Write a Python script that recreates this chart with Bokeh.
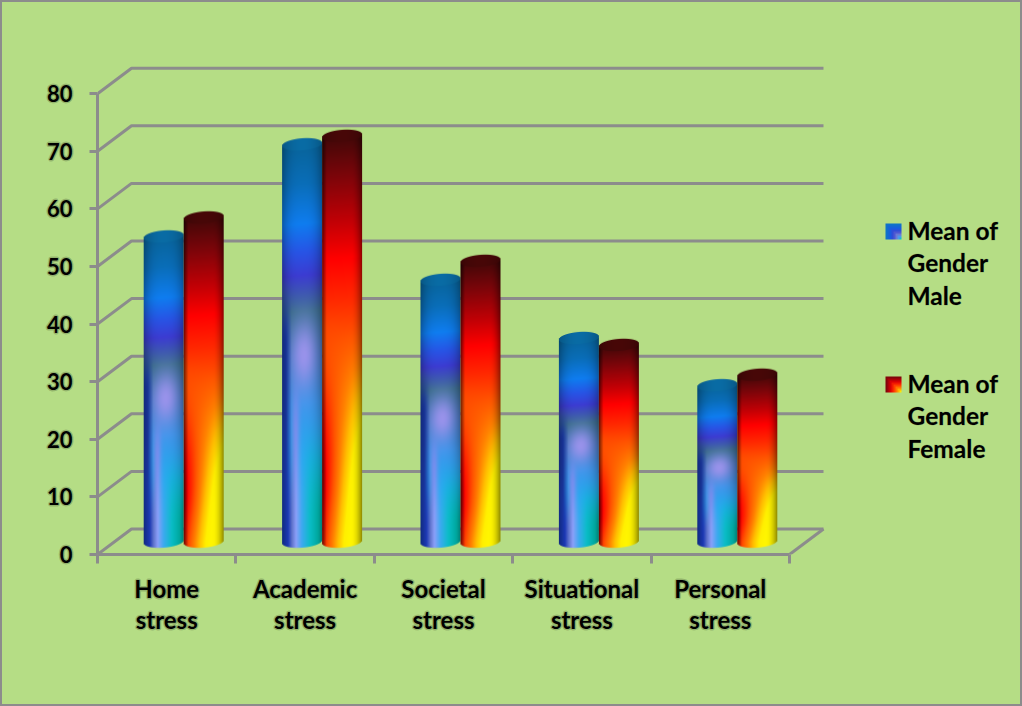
import numpy as np
from bokeh.embed import file_html
from bokeh.models import FixedTicker, InlineStyleSheet, LinearAxis, Range1d
from bokeh.plotting import figure
from bokeh.resources import INLINE
from bokeh.core.properties import value

categories = ["Home\nstress", "Academic\nstress", "Societal\nstress", "Situational\nstress", "Personal\nstress"]
male_values = [53, 69, 45.3, 35.2, 27]
female_values = [56.3, 70.3, 48.6, 34, 29]
y_ticks = [0, 10, 20, 30, 40, 50, 60, 70, 80]
legend_male = ["Mean of", "Gender", "Male"]
legend_female = ["Mean of", "Gender", "Female"]

WIDTH, HEIGHT = 1022, 706
LEFT, BASE = 97, 554
PX_PER_GROUP = 138.4
PX_PER_UNIT = 5.76
BAR_W, CAP, PAD, TILT = 40, 6, 2, 3.0
DEPTH_X = 34 / PX_PER_GROUP
DEPTH_Y = 25.5 / PX_PER_UNIT
BG = "#b5dd85"
GREY = "#8c8c8c"
FONT = "Lato"
STROKE = "#00000030"

MALE_STOPS = [(0, 8, 100, 155), (.1, 10, 110, 185), (.2, 15, 125, 240), (.27, 40, 85, 230), (.33, 60, 60, 210),
              (.42, 60, 112, 145), (.53, 65, 125, 200), (.65, 60, 150, 235), (.8, 35, 170, 240), (1, 35, 175, 240)]
MALE_FOOT = [(0, 20, 50, 150), (.15, 30, 60, 190), (.25, 100, 120, 210), (.35, 140, 160, 250), (.5, 60, 170, 240),
             (.7, 10, 190, 200), (.9, 0, 180, 170), (1, 0, 150, 140)]
FEMALE_STOPS = [(0, 65, 8, 8), (.1, 125, 5, 10), (.22, 200, 0, 5), (.3, 255, 0, 0), (.4, 255, 40, 0), (.5, 255, 85, 0),
                (.62, 255, 130, 0), (.75, 255, 190, 0), (.9, 255, 240, 0), (1, 255, 245, 0)]
MALE_KEY = [(0, 15, 115, 200), (.3, 25, 90, 225), (.5, 60, 70, 210), (.7, 110, 120, 210), (.85, 80, 150, 240),
            (1, 20, 190, 210)]
FEMALE_KEY = [(0, 130, 5, 10), (.3, 220, 0, 5), (.5, 255, 40, 0), (.75, 255, 130, 0), (1, 255, 230, 0)]


def ramp(stops, t):
    s = np.array(stops, dtype=float)
    return np.stack([np.interp(t, s[:, 0], s[:, c]) for c in (1, 2, 3)], axis=-1)


def step(a, b, x):
    w = np.clip((x - a) / (b - a), 0, 1)
    return w * w * (3 - 2 * w)


def blend(rgb, colour, w):
    return rgb * (1 - w[..., None]) + np.array(colour, dtype=float) * w[..., None]


def male_surface(u, v):
    rgb = ramp(MALE_STOPS, v)
    blob = np.exp(-((u - .55) / .34) ** 2 - ((v - .53) / .085) ** 2)
    rgb = blend(rgb, (165, 150, 240), .88 * blob)
    ridge = np.exp(-((u - .34) / .1) ** 2) * step(.55, .72, v)
    rgb = blend(rgb, (135, 140, 240), .8 * ridge)
    rgb = blend(rgb, (28, 60, 175), np.clip((.24 - u) / .14, 0, 1) * step(.33, .5, v))
    rgb = blend(rgb, ramp(MALE_FOOT, u), step(.68, .95, v))
    edge = 1 - .3 * np.abs(2 * u - 1) ** 3 * (1 - .5 * step(.6, .9, v))
    return rgb * edge[..., None]


def female_surface(u, v):
    w = step(.45, .9, v)
    rgb = ramp(FEMALE_STOPS, np.clip(v + w * (u - .65), 0, 1))
    edge = np.clip(.42 + 5 * u, 0, 1) * (1 - .45 * np.clip((u - .72) / .28, 0, 1) ** 2)
    return rgb * edge[..., None]


def cylinder(val, surface, cap_rgb):
    """RGBA raster of one cylinder; its height follows the value it shows."""
    body = val * PX_PER_UNIT
    top = CAP + PAD
    h = int(round(body + 2 * top))
    yy, xx = np.mgrid[0:h, 0:BAR_W] + .5
    u = xx / BAR_W
    # the ends of the cylinder lean a little, rising towards the right
    ys = yy + TILT * (u - .5)
    rgb = surface(u, np.clip((ys - top) / body, 0, 1))
    ex = (xx - BAR_W / 2) / (BAR_W / 2)
    half = CAP * np.sqrt(np.clip(1 - ex ** 2, 0, 1))
    cap_a = np.clip(half - np.abs(ys - top) + .5, 0, 1)
    cap = np.array(cap_rgb, dtype=float) * (.8 + .2 * (1 - ex ** 2))[..., None]
    rgb = rgb * (1 - cap_a[..., None]) + cap * cap_a[..., None]
    low = h - top
    a = np.where(ys < top, cap_a, np.where(ys > low, np.clip(half - (ys - low) + .5, 0, 1), 1.0))
    rgba = np.dstack([rgb, a * 255]).astype(np.uint8)
    return rgba[::-1].copy().view(np.uint32).reshape(h, BAR_W)


def swatch(stops):
    n = 16
    yy, xx = np.mgrid[0:n, 0:n]
    steps = np.floor(np.minimum(xx, yy) / 2) * 2 / (n - 2)
    rgb = ramp(stops, steps)
    rgba = np.dstack([rgb, np.full((n, n), 255.0)]).astype(np.uint8)
    return rgba[::-1].copy().view(np.uint32).reshape(n, n)


page_style = InlineStyleSheet(css=":host { background: %s; outline: 2px solid %s; outline-offset: -2px; }" % (BG, GREY))
p = figure(width=WIDTH, height=HEIGHT, output_backend="svg", toolbar_location=None,
           x_range=Range1d(0, (WIDTH - LEFT) / PX_PER_GROUP), y_range=Range1d(0, BASE / PX_PER_UNIT),
           x_axis_location=None, y_axis_location=None,
           min_border_left=LEFT, min_border_right=0, min_border_top=0, min_border_bottom=HEIGHT - BASE,
           background_fill_color=None, border_fill_color=None, outline_line_color=None,
           stylesheets=[page_style])
p.grid.visible = False

# back wall lines, each joined to the value axis by a slanted run
n_groups = len(categories)
wall_x = [[0, DEPTH_X, n_groups + DEPTH_X] for _ in y_ticks]
wall_y = [[t, t + DEPTH_Y, t + DEPTH_Y] for t in y_ticks]
p.multi_line(wall_x, wall_y, line_color=GREY, line_width=3)
p.line([n_groups, n_groups + DEPTH_X], [0, DEPTH_Y], line_color=GREY, line_width=3)

# cylinders stand on the middle of the floor
bw = BAR_W / PX_PER_GROUP
end_h = (CAP + PAD) / PX_PER_UNIT
for i, (m, f) in enumerate(zip(male_values, female_values)):
    cx = i + .5 + DEPTH_X / 2
    y0 = DEPTH_Y / 2 - end_h
    p.image_rgba(image=[cylinder(m, male_surface, (10, 108, 165))], x=[cx - bw], y=[y0],
                 dw=[bw], dh=[m + 2 * end_h])
    p.image_rgba(image=[cylinder(f, female_surface, (72, 8, 8))], x=[cx], y=[y0],
                 dw=[bw], dh=[f + 2 * end_h])

y_axis = LinearAxis(ticker=FixedTicker(ticks=y_ticks), bounds=(0, 80), axis_line_color=GREY, axis_line_width=3,
                    major_tick_line_color=GREY, major_tick_line_width=3, major_tick_out=8, major_tick_in=0,
                    minor_tick_line_color=None, major_label_standoff=17,
                    major_label_text_font=FONT, major_label_text_font_style="bold",
                    major_label_text_font_size="22px", major_label_text_color="black",
                    major_label_text_outline_color=STROKE)
p.add_layout(y_axis, "left")

x_axis = LinearAxis(ticker=FixedTicker(ticks=[i + .5 for i in range(n_groups)],
                                       minor_ticks=list(range(n_groups + 1))),
                    bounds=(0, n_groups), axis_line_color=GREY, axis_line_width=3,
                    major_tick_line_color=None, minor_tick_line_color=GREY, minor_tick_line_width=3,
                    minor_tick_out=9, minor_tick_in=0, major_tick_out=0, major_tick_in=0, major_label_standoff=10,
                    major_label_overrides={i + .5: c for i, c in enumerate(categories)},
                    major_label_text_font=FONT, major_label_text_font_style="bold",
                    major_label_text_font_size="24px", major_label_text_color="black",
                    major_label_text_line_height=1.09, major_label_text_outline_color=STROKE)
p.add_layout(x_axis, "below")


def px_x(px):
    return (px - LEFT) / PX_PER_GROUP


def px_y(py):
    return (BASE - py) / PX_PER_UNIT


# legend
for lines, stops, top in ((legend_male, MALE_KEY, 229.5), (legend_female, FEMALE_KEY, 382.5)):
    p.image_rgba(image=[swatch(stops)], x=[px_x(885)], y=[px_y(top + 9.5)], dw=[16 / PX_PER_GROUP], dh=[16 / PX_PER_UNIT])
    p.text(x=[px_x(907)] * 3, y=[px_y(top + 32.5 * k) for k in range(3)], text=lines, text_font=value(FONT),
           text_font_style="bold", text_font_size="24.5px", text_color="black", text_baseline="middle",
           text_outline_color=STROKE)

open("out.html", "w").write(file_html(p, INLINE))
